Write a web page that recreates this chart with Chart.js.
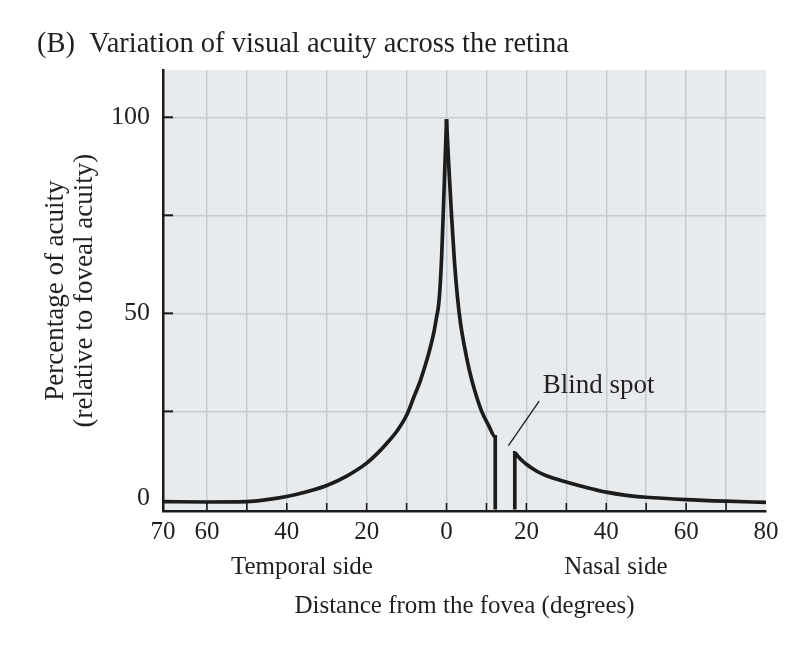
<!DOCTYPE html>
<html lang="en">
<head>
<meta charset="UTF-8">
<title>Variation of visual acuity across the retina</title>
<script src="https://cdn.jsdelivr.net/npm/chart.js@4"></script>
<style>
  html, body { margin:0; padding:0; background:#fff; }
  #wrap { width:790px; height:654px; }
</style>
</head>
<body>
<div id="wrap"><canvas id="acuity" width="790" height="654"></canvas></div>
<script>
// degrees from the fovea (temporal side negative) / percentage of foveal acuity
const temporalX = [-71, -60, -50, -45, -40, -35, -30, -25, -20, -17, -15, -12.4, -10, -8.2, -6.5, -5.25, -4.4, -3.2, -2.5, -2.0, -1.6, -1.2, -0.7, 0];
const temporalY = [2.0, 1.9, 2.0, 2.5, 3.3, 4.5, 6.1, 8.5, 11.8, 14.6, 16.8, 20, 24, 28.6, 33, 37, 40, 45, 49, 52, 57, 65, 79, 99.5];

// fovea to the edge of the blind spot
const centralX = [0, 0.6, 1.25, 2, 2.75, 3.5, 4.5, 5.6, 7, 8.8, 10.5, 12.2, 12.2];
const centralY = [99.5, 87, 75, 63, 54, 47.5, 41.5, 36, 30.5, 25, 21.5, 18.5, 0];

// far side of the blind spot out to 80 deg nasal
const nasalX = [17.1, 17.1, 18, 19, 20, 22.5, 25, 30, 35, 40, 45, 50, 60, 70, 80];
const nasalY = [0, 14.4, 13.4, 12.4, 11.5, 9.8, 8.6, 7.0, 5.6, 4.4, 3.6, 3.1, 2.5, 2.1, 1.8];

const xTickValues = [-71, -60, -50, -40, -30, -20, -10, 0, 10, 20, 30, 40, 50, 60, 70, 80];
const xTickLabels = ['70', '60', '', '40', '', '20', '', '0', '', '20', '', '40', '', '60', '', '80'];
const yTickValues = [0, 25, 50, 75, 100];
const yTickLabels = [['0', ''], '', '50', '', '100'];

const ink = '#231f20';
const serif = '"Liberation Serif", "DejaVu Serif", serif';

function pts(xs, ys) { return xs.map((x, i) => ({ x: x, y: ys[i] })); }

function curve(xs, ys) {
  return {
    data: pts(xs, ys),
    borderColor: '#1c1c1c',
    borderWidth: 3.7,
    pointRadius: 0,
    fill: false,
    cubicInterpolationMode: 'monotone'
  };
}

// plot background, inner tick marks and the free text
const decorations = {
  id: 'decorations',
  beforeDraw(chart) {
    const a = chart.chartArea, c = chart.ctx;
    c.save();
    c.fillStyle = '#e8ebee';
    c.fillRect(a.left, a.top, a.right - a.left, a.bottom - a.top);
    c.restore();
  },
  afterDraw(chart) {
    const a = chart.chartArea, c = chart.ctx;
    const xs = chart.scales.x, ys = chart.scales.y;
    c.save();
    c.strokeStyle = '#1b1b1b';
    // x ticks point up into the plot
    c.lineWidth = 1.6;
    xTickValues.forEach(v => {
      if (v <= xs.min || v >= xs.max) return;
      const px = xs.getPixelForValue(v);
      c.beginPath(); c.moveTo(px, a.bottom); c.lineTo(px, a.bottom - 8); c.stroke();
    });
    // y ticks point right into the plot
    c.lineWidth = 2;
    yTickValues.forEach(v => {
      if (v <= 0) return;
      const py = ys.getPixelForValue(v);
      c.beginPath(); c.moveTo(a.left, py); c.lineTo(a.left + 10, py); c.stroke();
    });

    // blind spot label with its leader
    c.lineWidth = 1.3;
    c.beginPath();
    c.moveTo(xs.getPixelForValue(15.5), ys.getPixelForValue(16.3));
    c.lineTo(xs.getPixelForValue(23.2), ys.getPixelForValue(27.6));
    c.stroke();

    c.fillStyle = ink;
    c.font = '27px ' + serif;
    c.textBaseline = 'alphabetic';
    c.textAlign = 'left';
    c.fillText('Blind spot', xs.getPixelForValue(24.1), ys.getPixelForValue(29.8));

    c.font = '25px ' + serif;
    c.textAlign = 'center';
    c.fillText('Temporal side', xs.getPixelForValue(-36.2), a.bottom + 63);
    c.fillText('Nasal side', xs.getPixelForValue(42.4), a.bottom + 63);
    c.restore();
  }
};

new Chart(document.getElementById('acuity'), {
  type: 'line',
  data: {
    datasets: [curve(temporalX, temporalY), curve(centralX, centralY), curve(nasalX, nasalY)]
  },
  options: {
    responsive: false,
    animation: false,
    layout: { padding: { left: 37, right: 24, top: 0, bottom: 0 } },
    plugins: {
      legend: { display: false },
      tooltip: { enabled: false },
      title: {
        display: true,
        text: '(B)  Variation of visual acuity across the retina',
        align: 'start',
        color: ink,
        font: { family: serif, size: 28.5, weight: 'normal', lineHeight: 1.2 },
        padding: { top: 27, bottom: 9 }
      }
    },
    scales: {
      x: {
        type: 'linear',
        min: -71,
        max: 80,
        afterBuildTicks: s => { s.ticks = xTickValues.map(v => ({ value: v })); },
        afterFit: s => { s.height = 143; },
        ticks: {
          autoSkip: false,
          maxRotation: 0,
          padding: 6,
          color: ink,
          font: { family: serif, size: 25, lineHeight: 1.2 },
          callback: (v, i) => xTickLabels[i]
        },
        grid: {
          drawTicks: false,
          lineWidth: 1.5,
          color: ctx => (ctx.tick && ctx.tick.value > -71 && ctx.tick.value < 80) ? '#c4cbd2' : 'rgba(0,0,0,0)'
        },
        border: { display: true, color: '#1b1b1b', width: 2.5 },
        title: {
          display: true,
          text: 'Distance from the fovea (degrees)',
          color: ink,
          font: { family: serif, size: 25, lineHeight: 1.2 },
          padding: { top: 0, bottom: 33 }
        }
      },
      y: {
        min: -0.4,
        max: 112,
        afterBuildTicks: s => { s.ticks = yTickValues.map(v => ({ value: v })); },
        afterFit: s => { s.width = 126; },
        ticks: {
          padding: 13,
          color: ink,
          font: { family: serif, size: 26, lineHeight: 0.85 },
          callback: (v, i) => yTickLabels[i]
        },
        grid: {
          drawTicks: false,
          lineWidth: 1.5,
          color: ctx => (ctx.tick && ctx.tick.value > 0) ? '#c4cbd2' : 'rgba(0,0,0,0)'
        },
        border: { display: true, color: '#1b1b1b', width: 2.5 },
        title: {
          display: true,
          text: ['Percentage of acuity', '(relative to foveal acuity)'],
          color: ink,
          font: { family: serif, size: 27, lineHeight: 1.05 },
          padding: { top: 5, bottom: 0 }
        }
      }
    }
  },
  plugins: [decorations]
});
</script>
</body>
</html>
